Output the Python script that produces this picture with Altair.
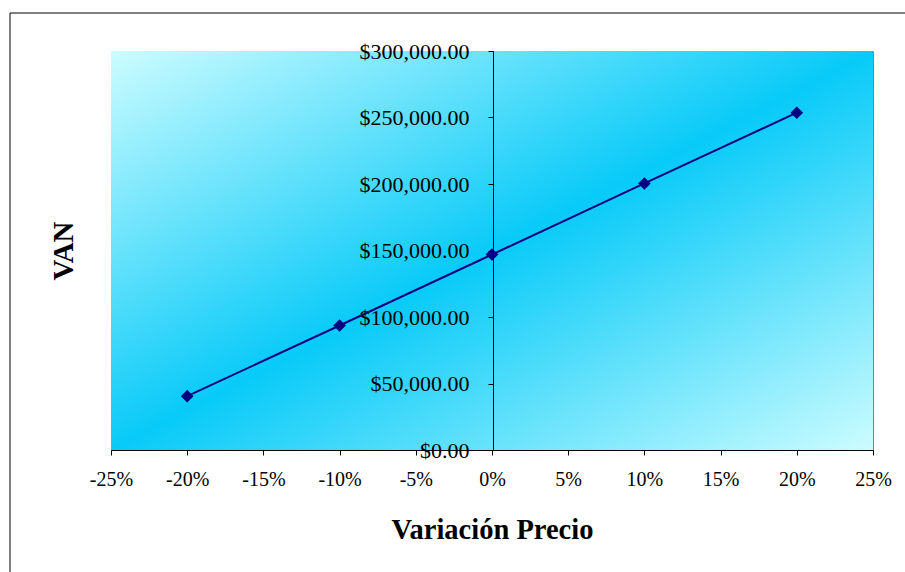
import altair as alt
import pandas as pd

# Sensitivity of VAN to price variation
variacion = [-20, -10, 0, 10, 20]          # % change in price
van = [40500, 93600, 147000, 200400, 253600]  # resulting VAN ($)

x_ticks = [-25, -20, -15, -10, -5, 0, 5, 10, 15, 20, 25]
y_ticks = [0, 50000, 100000, 150000, 200000, 250000, 300000]

W, H = 762, 399
PAD = {"left": 111, "top": 51, "right": 32, "bottom": 122}
SERIF = "Liberation Serif"

df = pd.DataFrame({"variacion": variacion, "van": van})
one = pd.DataFrame({"k": [0]})

x_enc = alt.X(
    "variacion:Q",
    scale=alt.Scale(domain=[-25, 25], nice=False),
    axis=alt.Axis(
        values=x_ticks,
        labelExpr="(datum.value < 0 ? '-' : '') + abs(datum.value) + '%'",
        labelFont=SERIF, labelFontSize=20, labelColor="#000000",
        labelPadding=14, labelFlush=False, labelOverlap=False,
        tickSize=5, tickColor="#000000", domainColor="#000000",
        grid=False, zindex=1,
        title="Variación Precio", titleFont=SERIF, titleFontSize=28.5,
        titleFontWeight="bold", titleColor="#000000",
        titleY=88, titleBaseline="alphabetic",
    ),
)
y_enc = alt.Y(
    "van:Q",
    scale=alt.Scale(domain=[0, 300000], nice=False),
    axis=alt.Axis(
        values=y_ticks, format="$,.2f",
        offset=-(W / 2 + 1),
        labelFont=SERIF, labelFontSize=22, labelColor="#000000",
        labelPadding=19, labelFlush=False, labelOverlap=False,
        tickSize=5, tickColor="#000000", domainColor="#000000",
        grid=False, zindex=1,
        title="VAN", titleFont=SERIF, titleFontSize=29,
        titleFontWeight="bold", titleColor="#000000",
        titleAngle=270, titleAlign="center", titleBaseline="middle",
        titleX=-430, titleY=H / 2,
    ),
)

# outer chart frame
frame = alt.Chart(one).mark_rect(
    filled=False, color="#000000", strokeWidth=1, clip=False
).encode(
    x=alt.value(-101), x2=alt.value(W + 60),
    y=alt.value(-38), y2=alt.value(H + 200),
)

# diagonal gradient fill of the plot area
bg = alt.Chart(one).mark_rect(
    fill=alt.Gradient(
        gradient="linear",
        stops=[
            alt.GradientStop(color="#ccfcff", offset=0),
            alt.GradientStop(color="#08caf8", offset=0.5),
            alt.GradientStop(color="#ccfcff", offset=1),
        ],
        x1=0, y1=0, x2=1, y2=1,
    ),
    strokeWidth=0,
).encode(
    x=alt.value(0), x2=alt.value(W),
    y=alt.value(0), y2=alt.value(H),
)

line = alt.Chart(df).mark_line(color="#000080", strokeWidth=2).encode(x=x_enc, y=y_enc)
pts = alt.Chart(df).mark_point(
    shape="diamond", filled=True, color="#000080", size=160, opacity=1
).encode(x="variacion:Q", y="van:Q")

chart = alt.layer(frame, bg, line, pts).properties(
    width=W, height=H, padding=PAD, autosize="none", background="#ffffff"
).configure_view(stroke="#808080", strokeWidth=1)

chart.save("out.html", embed_options={"renderer": "svg", "actions": False})
